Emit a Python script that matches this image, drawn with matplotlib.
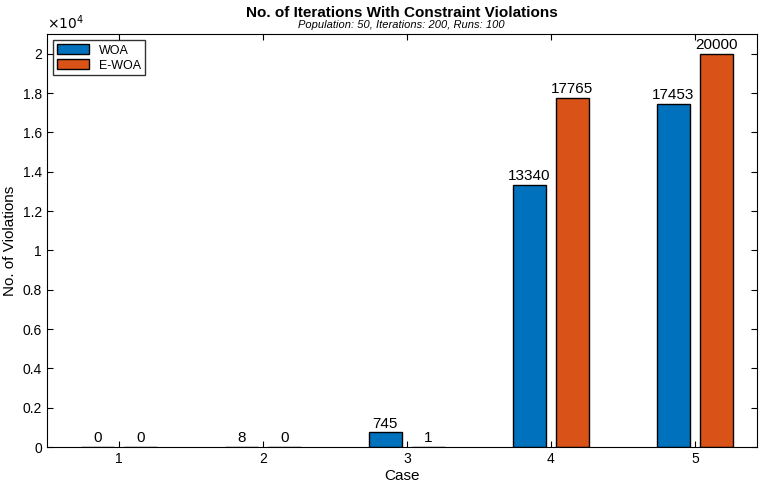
import matplotlib
matplotlib.use('Agg')
from matplotlib import pyplot as plt
import numpy as np

plt.rcParams['font.family'] = ['Liberation Sans', 'DejaVu Sans']

cases = [1, 2, 3, 4, 5]
woa = [0, 8, 745, 13340, 17453]
ewoa = [0, 0, 1, 17765, 20000]
yticks = [0, 2000, 4000, 6000, 8000, 10000, 12000, 14000, 16000, 18000, 20000]
ytick_labels = ['0', '0.2', '0.4', '0.6', '0.8', '1', '1.2', '1.4', '1.6', '1.8', '2']

fig = plt.figure(figsize=(7.66, 4.87), dpi=100)
ax = fig.add_axes([0.061, 0.082, 0.927, 0.848])

x = np.array(cases)
b1 = ax.bar(x - 0.15, woa, 0.23, color='#0072BD', edgecolor='black', linewidth=1, label='WOA')
b2 = ax.bar(x + 0.15, ewoa, 0.23, color='#D95319', edgecolor='black', linewidth=1, label='E-WOA')
for bars, vals in ((b1, woa), (b2, ewoa)):
    for b, v in zip(bars, vals):
        ax.text(b.get_x() + b.get_width() / 2, v + 80, str(v), ha='center', va='bottom', fontsize=11)

ax.set_xlim(0.5, 5.43)
ax.set_ylim(0, 21000)
ax.set_xticks(cases)
ax.set_yticks(yticks)
ax.set_yticklabels(ytick_labels)
ax.tick_params(direction='in', labelsize=10, top=True, right=True, length=4)
ax.text(0, 1.005, r'$\times10^4$', transform=ax.transAxes, fontsize=10, va='bottom', ha='left')
ax.set_xlabel('Case', fontsize=11, labelpad=2)
ax.set_ylabel('No. of Violations', fontsize=11)
fig.text(0.524, 0.965, 'No. of Iterations With Constraint Violations', ha='center', fontsize=11, fontweight='bold')
fig.text(0.524, 0.942, 'Population: 50, Iterations: 200, Runs: 100', ha='center', fontsize=8, style='italic')
ax.legend(loc='upper left', fontsize=9, frameon=True, fancybox=False, edgecolor='black',
          handlelength=2.6, handleheight=0.9, borderpad=0.3, labelspacing=0.2)

fig.savefig('out.png', dpi=100)
